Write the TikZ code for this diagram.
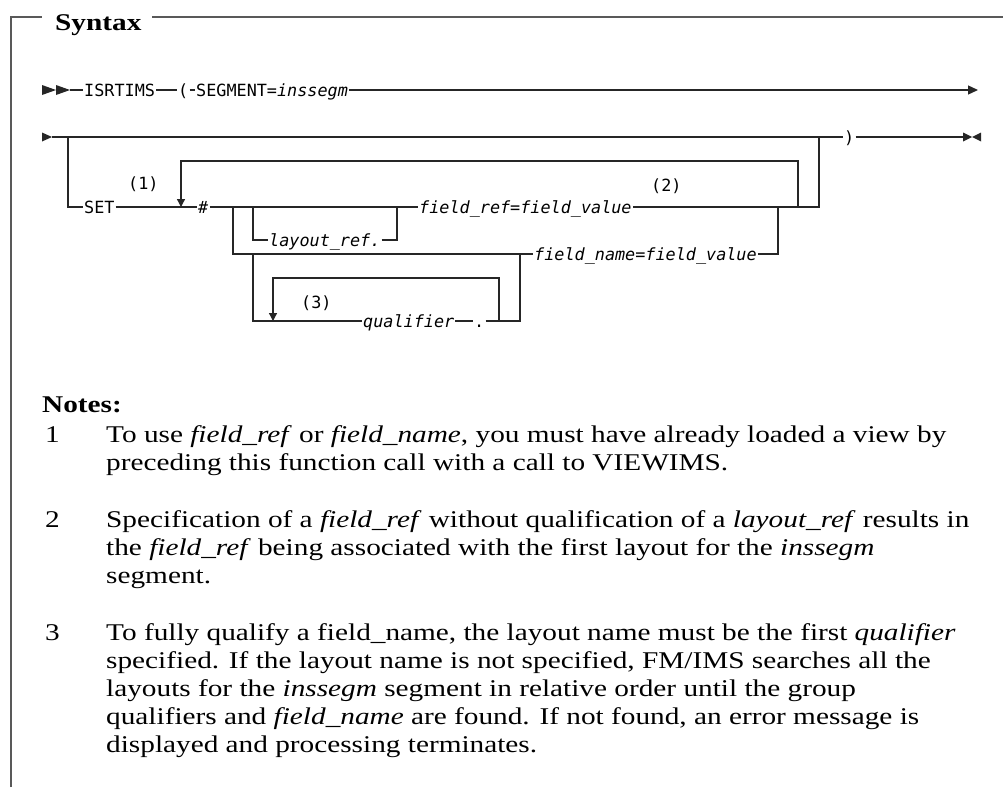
\documentclass[tikz,border=0pt]{standalone}
\usepackage{fontspec}
\setmainfont[FakeStretch=1.22]{Liberation Serif}
\newfontfamily\rrfont{DejaVu Sans Mono}
\usetikzlibrary{arrows.meta,positioning}
\definecolor{railgray}{gray}{0.15}
\definecolor{framegray}{gray}{0.35}
\tikzset{
  rail/.style={draw=railgray,line width=1.3pt},
  railarr/.style={rail,-{Triangle[length=8pt,width=8pt]}},
  frm/.style={draw=framegray,line width=1.5pt},
  kw/.style={font=\rrfont\fontsize{16.8}{20}\selectfont,inner xsep=1pt,inner ysep=0pt,
    text height=12pt,text depth=0pt,anchor=west},
  var/.style={kw,font=\rrfont\fontsize{16.8}{20}\selectfont\itshape},
  ttl/.style={font=\bfseries\fontsize{24}{28}\selectfont,inner sep=0pt,anchor=base west},
  note/.style={font=\fontsize{24}{28}\selectfont,inner sep=0pt,anchor=base west}
}
\begin{document}
\begin{tikzpicture}[x=1pt,y=-1pt]
  \useasboundingbox (0,0) rectangle (1003,787);

  % frame and heading
  \node[ttl] (syn) at (55,30) {Syntax};
  \draw[frm] (11,787) -- (11,17) -- (42,17);
  \draw[frm] (152,17) -- (1003,17);

  % first line
  \coordinate (r1s) at (42,90);
  \coordinate (r1m) at (70,90);
  \coordinate (r1e) at (978,90);
  \fill[railgray] (r1s) ++(0,-5) -- ++(14,5) -- ++(-14,5) -- cycle;
  \fill[railgray] (r1s) ++(14,-5) -- ++(14,5) -- ++(-14,5) -- cycle;
  \node[kw] (isrt) at (83,90) {ISRTIMS};
  \node[kw] (lpar) at (177,90) {(};
  \node[kw] (seg) at (195,90) {SEGMENT=\textit{inssegm}};
  \draw[rail] (r1m) -- (isrt);
  \draw[rail] (isrt) -- (lpar);
  \draw[rail] (lpar) -- (seg);
  \draw[rail,-{Triangle[length=10pt,width=9pt]}] (seg) -- (r1e);

  % second line
  \coordinate (r2s) at (42,137);
  \coordinate (r2a) at (52,137);
  \coordinate (r2e) at (963,137);
  \fill[railgray] (r2s) ++(0,-4.5) -- ++(10,4.5) -- ++(-10,4.5) -- cycle;
  \node[kw] (rpar) at (843,137) {)};
  \draw[rail] (r2a) -- (rpar);
  \draw[rail] (rpar) -- (r2e);
  \fill[railgray] (r2e) ++(0,-4.5) -- ++(9,4.5) -- ++(-9,4.5) -- cycle;
  \fill[railgray] (r2e) ++(18,-4.5) -- ++(-9,4.5) -- ++(9,4.5) -- cycle;

  % SET branch
  \coordinate (b1) at (68,137);
  \coordinate (b2) at (819,137);
  \node[kw] (set) at (83,207) {SET};
  \node[kw] (n1) at (127,183) {(1)};
  \node[var] (hash) at (197,207) {\#};
  \node[var] (fref) at (418,207) {field\_ref=field\_value};
  \node[kw] (n2) at (650,185) {(2)};
  \draw[rail] (b1) |- (set);
  \draw[rail] (set) -- (hash);
  \draw[rail] (hash) -- (fref);
  \draw[rail] (fref) -| (b2);

  % repeat
  \coordinate (lpl) at (181,207);
  \coordinate (lpr) at (798,207);
  \draw[railarr] (lpr) -- (798,161) -| (lpl);

  % layout_ref
  \coordinate (lrs) at (253,207);
  \coordinate (lre) at (397,207);
  \node[var] (lref) at (268,240) {layout\_ref.};
  \draw[rail] (lrs) |- (lref);
  \draw[rail] (lref) -| (lre);

  % field_name
  \coordinate (fns) at (233,207);
  \coordinate (fne) at (778,207);
  \node[var] (fname) at (533,254) {field\_name=field\_value};
  \draw[rail] (fns) |- (fname);
  \draw[rail] (fname) -| (fne);

  % qualifiers
  \coordinate (qs) at (253,254);
  \coordinate (qe) at (520,254);
  \node[var] (qual) at (362,321) {qualifier};
  \node[kw] (dot) at (473,321) {.};
  \node[kw] (n3) at (300,302) {(3)};
  \draw[rail] (qs) |- (qual);
  \draw[rail] (qual) -- (dot);
  \draw[rail] (dot) -| (qe);
  \coordinate (qll) at (273,321);
  \coordinate (qlr) at (499,321);
  \draw[railarr] (qlr) -- (499,278) -| (qll);

  % notes
  \node[ttl] (notes) at (42,412) {Notes:};
  \node[note] (m1) at (45,442) {1};
  \node[note] (t1a) at (106,442) {To use \textit{field\_ref} or \textit{field\_name}, you must have already loaded a view by};
  \node[note] (t1b) at (106,470) {preceding this function call with a call to VIEWIMS.};
  \node[note] (m2) at (45,527) {2};
  \node[note] (t2a) at (106,527) {Specification of a \textit{field\_ref} without qualification of a \textit{layout\_ref} results in};
  \node[note] (t2b) at (106,555) {the \textit{field\_ref} being associated with the first layout for the \textit{inssegm}};
  \node[note] (t2c) at (106,583) {segment.};
  \node[note] (m3) at (45,640) {3};
  \node[note] (t3a) at (106,640) {To fully qualify a field\_name, the layout name must be the first \textit{qualifier}};
  \node[note] (t3b) at (106,668) {specified. If the layout name is not specified, FM/IMS searches all the};
  \node[note] (t3c) at (106,696) {layouts for the \textit{inssegm} segment in relative order until the group};
  \node[note] (t3d) at (106,724) {qualifiers and \textit{field\_name} are found. If not found, an error message is};
  \node[note] (t3e) at (106,752) {displayed and processing terminates.};
\end{tikzpicture}
\end{document}
